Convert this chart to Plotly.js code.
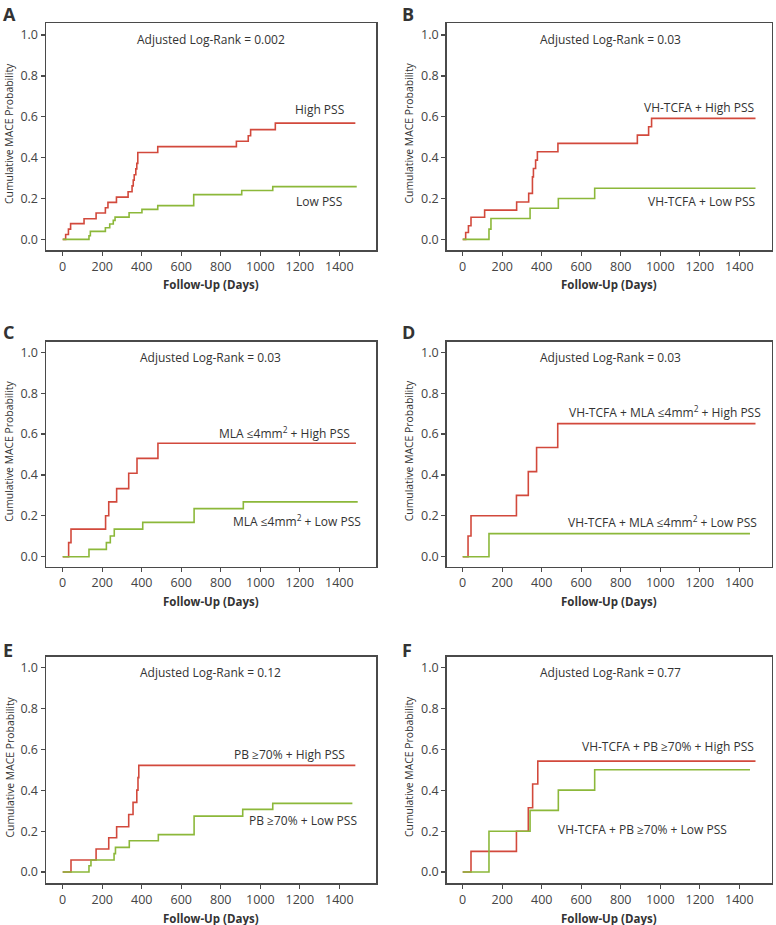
<!DOCTYPE html>
<html>
<head>
<meta charset="utf-8">
<script src="https://cdn.plot.ly/plotly-3.0.1.min.js"></script>
<style>html,body{margin:0;padding:0;background:#fff;}#chart{width:776px;height:925px;}</style>
</head>
<body>
<div id="chart"></div>
<script>
// ---- Data ----
const panelLetters = ['A','B','C','D','E','F'];
const logRankText = ['Adjusted Log-Rank = 0.002','Adjusted Log-Rank = 0.03','Adjusted Log-Rank = 0.03','Adjusted Log-Rank = 0.03','Adjusted Log-Rank = 0.12','Adjusted Log-Rank = 0.77'];
const highLabels = ['High PSS','VH-TCFA + High PSS','MLA ≤4mm<sup>2</sup> + High PSS','VH-TCFA + MLA ≤4mm<sup>2</sup> + High PSS','PB ≥70% + High PSS','VH-TCFA + PB ≥70% + High PSS'];
const lowLabels = ['Low PSS','VH-TCFA + Low PSS','MLA ≤4mm<sup>2</sup> + Low PSS','VH-TCFA + MLA ≤4mm<sup>2</sup> + Low PSS','PB ≥70% + Low PSS','VH-TCFA + PB ≥70% + Low PSS'];
const xTicks = [0,200,400,600,800,1000,1200,1400];
const yTicks = [0,0.2,0.4,0.6,0.8,1.0];

const aHighX = [0,15,29,40,108,169,216,229,272,331,351,357,362,370,375,380,481,879,939,951,1076,1481];
const aHighY = [0,0.024,0.05,0.077,0.101,0.129,0.155,0.181,0.207,0.233,0.262,0.29,0.316,0.345,0.372,0.425,0.454,0.48,0.507,0.537,0.569,0.569];
const aLowX = [0,133,140,216,238,256,265,336,401,481,663,906,1063,1488];
const aLowY = [0,0.018,0.039,0.057,0.075,0.093,0.109,0.13,0.147,0.165,0.219,0.239,0.258,0.258];

const bHighX = [0,15,29,42,111,273,334,353,358,369,378,482,884,941,956,1482];
const bHighY = [0,0.034,0.067,0.108,0.143,0.183,0.225,0.306,0.347,0.388,0.429,0.47,0.51,0.551,0.592,0.592];
const bLowX = [0,133,143,341,484,668,1482];
const bLowY = [0,0.05,0.102,0.152,0.2,0.25,0.25];

const cHighX = [0,30,42,217,233,273,334,376,482,1484];
const cHighY = [0,0.069,0.135,0.2,0.268,0.333,0.408,0.481,0.555,0.555];
const cLowX = [0,133,221,241,261,405,665,914,1493];
const cLowY = [0,0.036,0.069,0.101,0.135,0.168,0.235,0.268,0.268];

const dHighX = [0,27,42,272,332,374,481,1482];
const dHighY = [0,0.101,0.2,0.3,0.416,0.534,0.651,0.651];
const dLowX = [0,133,1454];
const dLowY = [0,0.113,0.113];

const eHighX = [0,42,169,233,273,334,356,375,381,385,1481];
const eHighY = [0,0.059,0.113,0.168,0.222,0.282,0.341,0.401,0.462,0.522,0.522];
const eLowX = [0,133,143,260,267,337,484,665,911,1063,1466];
const eLowY = [0,0.031,0.059,0.09,0.121,0.153,0.183,0.274,0.307,0.336,0.336];

const fHighX = [0,42,272,332,354,380,1482];
const fHighY = [0,0.101,0.2,0.315,0.431,0.543,0.543];
const fLowX = [0,133,341,484,668,1454];
const fLowY = [0,0.2,0.302,0.401,0.501,0.501];

// label positions (data coords) [x right edge, y]
const highLabelPos = [[1434,0.636],[1483,0.646],[1466,0.607],[1518,0.71],[1437,0.576],[1483,0.613]];
const lowLabelPos  = [[1425,0.186],[1488,0.186],[1518,0.176],[1501,0.168],[1500,0.251],[1349,0.21]];

// ---- Layout geometry ----
const W = 776, H = 925;
const RED = '#d2493c', GREEN = '#8cb83a', INK = '#333333', AX = '#4a4a4a';
const FONT = '"Open Sans", "Noto Sans", sans-serif';

const colX = [[46,376],[446.7,771.7]];           // px
const colXRange = [[-84.5,1585.5],[-81,1564]];
const rowY = [[23,250],[341.7,566.7],[656.7,883.3]]; // px top,bottom
const rowYRange = [[-0.052,1.059],[-0.049,1.052],[-0.055,1.054]];

const highs = [[aHighX,aHighY],[bHighX,bHighY],[cHighX,cHighY],[dHighX,dHighY],[eHighX,eHighY],[fHighX,fHighY]];
const lows  = [[aLowX,aLowY],[bLowX,bLowY],[cLowX,cLowY],[dLowX,dLowY],[eLowX,eLowY],[fLowX,fLowY]];

const traces = [];
const layout = {
  width: W, height: H,
  margin: {l:0,r:0,t:0,b:0},
  paper_bgcolor: '#fff', plot_bgcolor: '#fff',
  showlegend: false,
  font: {family: FONT, color: INK},
  annotations: []
};

for (let i = 0; i < 6; i++) {
  const col = i % 2, row = Math.floor(i / 2);
  const n = i + 1;
  const xa = 'xaxis' + (n === 1 ? '' : n), ya = 'yaxis' + (n === 1 ? '' : n);
  const xr = 'x' + (n === 1 ? '' : n), yr = 'y' + (n === 1 ? '' : n);
  const axCommon = {
    showline: true, mirror: true, linecolor: AX, linewidth: 1.5,
    ticks: 'outside', ticklen: 4, tickwidth: 1.2, tickcolor: AX,
    showgrid: false, zeroline: false, fixedrange: true,
    tickfont: {family: FONT, size: 12.5, color: '#444'}
  };
  layout[xa] = Object.assign({}, axCommon, {
    domain: [colX[col][0]/W, colX[col][1]/W],
    range: colXRange[col], anchor: yr,
    tickmode: 'array', tickvals: xTicks, ticktext: xTicks.map(String)
  });
  layout[ya] = Object.assign({}, axCommon, {
    domain: [1 - rowY[row][1]/H, 1 - rowY[row][0]/H],
    range: rowYRange[row], anchor: xr,
    tickmode: 'array', tickvals: yTicks, ticktext: yTicks.map(v => v.toFixed(1))
  });

  traces.push({x: highs[i][0], y: highs[i][1], xaxis: xr, yaxis: yr, type: 'scatter', mode: 'lines',
    line: {shape: 'hv', color: RED, width: 1.6}, hoverinfo: 'skip'});
  traces.push({x: lows[i][0], y: lows[i][1], xaxis: xr, yaxis: yr, type: 'scatter', mode: 'lines',
    line: {shape: 'hv', color: GREEN, width: 1.6}, hoverinfo: 'skip'});

  const A = layout.annotations;
  A.push({xref: xr, yref: yr, x: 750, y: 0.977, text: logRankText[i], showarrow: false,
    xanchor: 'center', yanchor: 'middle', font: {size: 12, color: INK}});
  A.push({xref: xr, yref: yr, x: highLabelPos[i][0], y: highLabelPos[i][1], text: highLabels[i], showarrow: false,
    xanchor: 'right', yanchor: 'middle', font: {size: 12, color: INK}});
  A.push({xref: xr, yref: yr, x: lowLabelPos[i][0], y: lowLabelPos[i][1], text: lowLabels[i], showarrow: false,
    xanchor: 'right', yanchor: 'middle', font: {size: 12, color: INK}});

  // panel letter (top of text box)
  const letterTop = [0.5, 317.5, 635.5][row];
  const letterX = [1, 400][col];
  A.push({xref: 'paper', yref: 'paper', x: letterX/W, y: 1 - letterTop/H, text: '<b>' + panelLetters[i] + '</b>',
    showarrow: false, xanchor: 'left', yanchor: 'top', font: {size: 18, color: INK}});

  // axis titles
  const boxMidY = (rowY[row][0] + rowY[row][1]) / 2;
  const yTitleX = [9.5, 409][col];
  A.push({xref: 'paper', yref: 'paper', x: yTitleX/W, y: 1 - (boxMidY - 3)/H, text: 'Cumulative MACE Probability',
    textangle: -90, showarrow: false, xanchor: 'center', yanchor: 'middle', font: {size: 10.4, color: INK}});
  const boxMidX = (colX[col][0] + colX[col][1]) / 2;
  const xTitleY = rowY[row][1] + 35;
  A.push({xref: 'paper', yref: 'paper', x: boxMidX/W, y: 1 - xTitleY/H, text: '<b>Follow-Up (Days)</b>',
    showarrow: false, xanchor: 'center', yanchor: 'middle', font: {size: 11.5, color: INK}});
}

Plotly.newPlot('chart', traces, layout, {staticPlot: true, displayModeBar: false});
</script>
</body>
</html>
